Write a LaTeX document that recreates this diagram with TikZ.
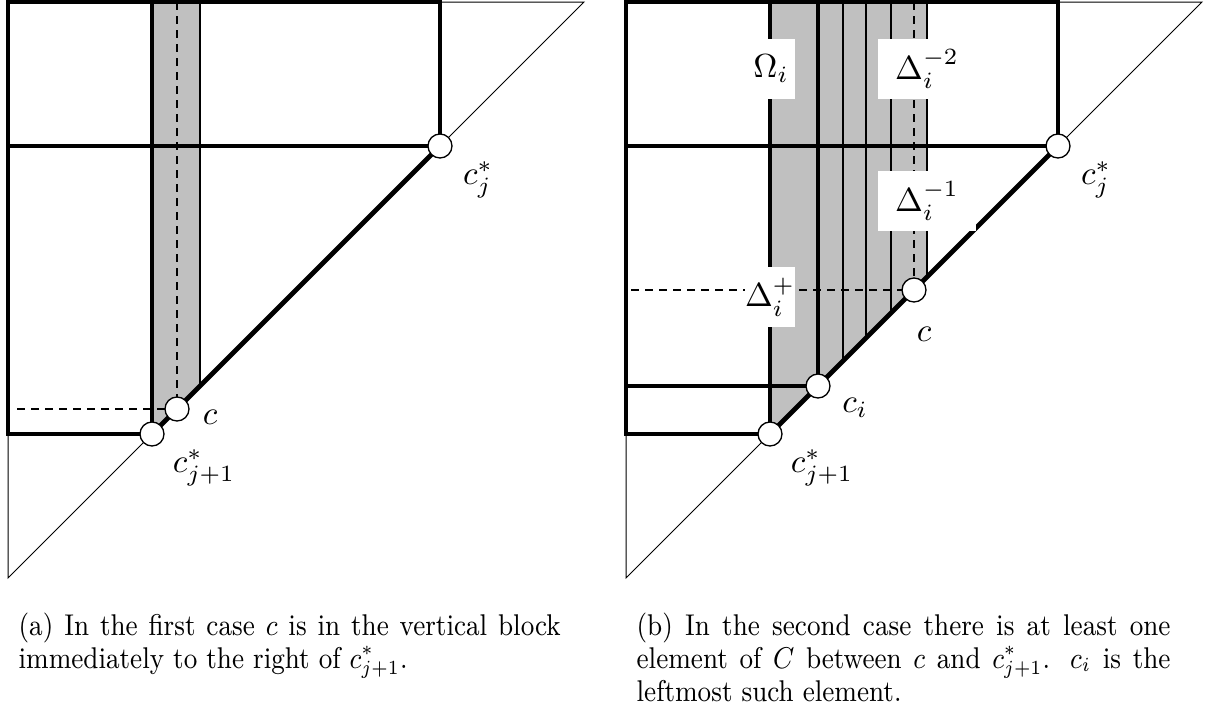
\RequirePackage{fix-cm}
\documentclass[tikz,border=0pt]{standalone}
\usepackage{fontspec}
\usepackage{graphicx}
\definecolor{grayfill}{RGB}{192,192,192}
\tikzset{
  thickln/.style={line width=1.45pt},
  medln/.style={line width=0.7pt},
  thinln/.style={line width=0.3pt},
  dashln/.style={line width=0.6pt, dash pattern=on 2.4pt off 1.8pt},
  dot/.style={circle, draw, fill=white, line width=0.4pt, minimum size=7.2pt, inner sep=0pt},
  lbl/.style={inner sep=0pt},
  wbox/.style={fill=white, inner sep=0pt, minimum height=18pt},
  capt/.style={anchor=north west, inner sep=0pt, font=\fontsize{9}{9.9}\selectfont},
}
\begin{document}
\begin{tikzpicture}[x=0.3pt, y=-0.3pt]
\useasboundingbox (0,0) rectangle (1205,708);
% ---------------- left panel ----------------
\coordinate (cjL) at (440,146);
\coordinate (cj1L) at (152,434);
\coordinate (cL) at (177,409);
\fill[grayfill] (152,2) -- (200,2) -- (200,386) -- (152,434) -- cycle;
\draw[thinln] (8,434) -- (8,578) -- (584,2) -- (440,2);
\draw[thickln] (440,146) -- (440,2) -- (8,2) -- (8,434) -- (cj1L);
\draw[thickln] (8,146) -- (cjL);
\draw[thickln] (152,2) -- (cj1L);
\draw[medln] (200,2) -- (200,386);
\draw[thickln] (cj1L) -- (cjL);
\draw[dashln] (177,2) -- (cL);
\draw[dashln] (17,409) -- (cL);
\node[dot] (pcjL) at (cjL) {};
\node[dot] (pcj1L) at (cj1L) {};
\node[dot] (pcL) at (cL) {};
\node[lbl] (tcjL) at (478,180) {$c^*_j$};
\node[lbl] (tcL) at (210,417) {$c$};
\node[lbl] (tcj1L) at (204,468) {$c^*_{j+1}$};
% ---------------- right panel ----------------
\coordinate (cjR) at (1058,146);
\coordinate (cj1R) at (770,434);
\coordinate (ciR) at (818,386);
\coordinate (cR) at (914,290);
\fill[grayfill] (770,2) -- (927,2) -- (927,277) -- (770,434) -- cycle;
\draw[thinln] (626,434) -- (626,578) -- (1202,2) -- (1058,2);
\draw[thickln] (1058,146) -- (1058,2) -- (626,2) -- (626,434) -- (cj1R);
\draw[thickln] (626,146) -- (cjR);
\draw[thickln] (626,386) -- (ciR);
\draw[thickln] (770,2) -- (cj1R);
\draw[thickln] (818,2) -- (ciR);
\draw[medln] (843,2) -- (843,361);
\draw[medln] (866,2) -- (866,338);
\draw[medln] (891,2) -- (891,313);
\draw[medln] (927,2) -- (927,277);
\draw[thickln] (cj1R) -- (cjR);
\draw[dashln] (914,2) -- (cR);
\draw[dashln] (631,290) -- (cR);
\node[wbox, minimum width=14.4pt] (om) at (771,69) {$\Omega_i$};
\node[wbox, minimum width=29.4pt] (dm2) at (927,69) {$\Delta_i^{-2}$};
\node[wbox, minimum width=29.4pt] (dm1) at (927,201) {$\Delta_i^{-1}$};
\node[wbox, minimum width=14.4pt] (dp) at (770,297) {$\Delta_i^{+}$};
\node[dot] (pcjR) at (cjR) {};
\node[dot] (pcj1R) at (cj1R) {};
\node[dot] (pciR) at (ciR) {};
\node[dot] (pcR) at (cR) {};
\node[lbl] (tcjR) at (1096,180) {$c^*_j$};
\node[lbl] (tcR) at (924,334) {$c$};
\node[lbl] (tciR) at (855,408) {$c_i$};
\node[lbl] (tcj1R) at (822,468) {$c^*_{j+1}$};
% ---------------- captions ----------------
\node[capt] (capA) at (18,612) {\scalebox{0.88}[1]{\parbox{184.8pt}{(a) In the first case $c$ is in the vertical block\linebreak immediately to the right of $c^*_{j+1}$.}}};
\node[capt] (capB) at (636,612) {\scalebox{0.88}[1]{\parbox{182pt}{(b) In the second case there is at least one\linebreak element of $C$ between $c$ and $c^*_{j+1}$. $c_i$ is the\linebreak leftmost such element.}}};
\end{tikzpicture}
\end{document}
